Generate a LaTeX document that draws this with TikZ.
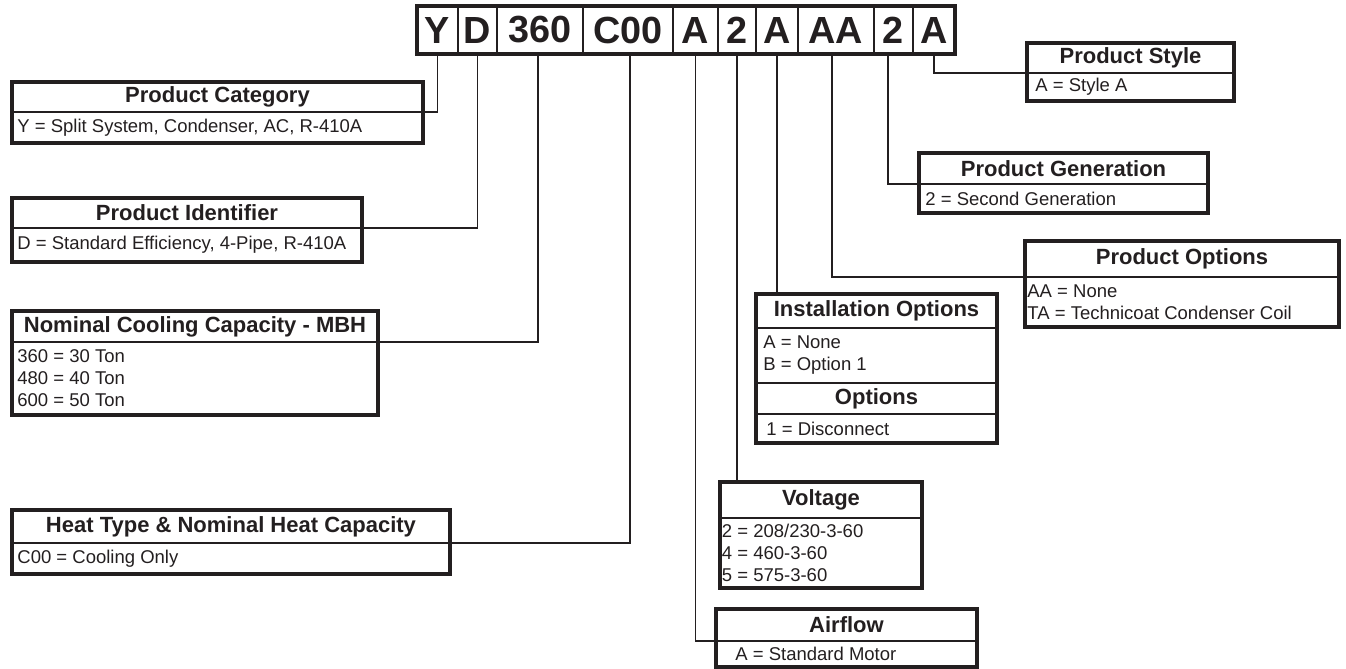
\documentclass[tikz,border=0pt]{standalone}
\usepackage{fontspec}
\setmainfont{Liberation Sans}
\usetikzlibrary{positioning}
\definecolor{SpecInk}{HTML}{231F20}
\tikzset{
  codecell/.style={draw=SpecInk,line width=0.75pt,minimum height=24pt,inner sep=0pt,outer sep=0pt,font=\fontsize{18.9}{20}\selectfont\bfseries},
  headcell/.style={draw=SpecInk,line width=0.75pt,anchor=north west,inner sep=0pt,outer sep=0pt,font=\fontsize{11}{13}\selectfont\bfseries},
  bodycell/.style={draw=SpecInk,line width=0.75pt,anchor=north west,inner sep=0pt,outer sep=0pt},
  bodytext/.style={anchor=west,align=left,inner sep=0pt,font=\fontsize{9.25}{11}\selectfont},
  boxframe/.style={draw=SpecInk,line width=1.6pt},
  leader/.style={draw=SpecInk,line width=0.75pt}
}
\begin{document}
\begin{tikzpicture}[x=0.5pt,y=-0.5pt,color=SpecInk]
\useasboundingbox (0,0) rectangle (1346,669);
% model number strip
\node[codecell,minimum width=20.5pt,anchor=north west] (cY) at (417,6) {Y};
\node[codecell,minimum width=19.5pt,right=0pt of cY] (cD) {D};
\node[codecell,minimum width=43pt,right=0pt of cD] (cCap) {360};
\node[codecell,minimum width=45pt,right=0pt of cCap] (cHeat) {C00};
\node[codecell,minimum width=22.5pt,right=0pt of cHeat] (cAir) {A};
\node[codecell,minimum width=19pt,right=0pt of cAir] (cVolt) {2};
\node[codecell,minimum width=21pt,right=0pt of cVolt] (cInst) {A};
\node[codecell,minimum width=38pt,right=0pt of cInst] (cOpt) {AA};
\node[codecell,minimum width=19.5pt,right=0pt of cOpt] (cGen) {2};
\node[codecell,minimum width=21pt,right=0pt of cGen] (cStyle) {A};
\draw[boxframe] (cY.north west) rectangle (cStyle.south east);

% product category
\node[headcell,minimum width=205.5pt,minimum height=15pt] (catHead) at (12,82) {Product Category};
\node[bodycell,minimum width=205.5pt,minimum height=15.5pt] (catBody) at (catHead.south west) {};
\node[bodytext] (catText) at ([xshift=2.5pt]catBody.west) {Y = Split System, Condenser, AC, R-410A};
\draw[boxframe] (catHead.north west) rectangle (catBody.south east);
\draw[leader] (cY.south) |- (catHead.south east);

% product identifier
\node[headcell,minimum width=175pt,minimum height=15pt] (idHead) at (12,198) {Product Identifier};
\node[bodycell,minimum width=175pt,minimum height=17pt] (idBody) at (idHead.south west) {};
\node[bodytext] (idText) at ([xshift=2.5pt]idBody.west) {D = Standard Efficiency, 4-Pipe, R-410A};
\draw[boxframe] (idHead.north west) rectangle (idBody.south east);
\draw[leader] (cD.south) |- (idHead.south east);

% cooling capacity
\node[headcell,minimum width=183pt,minimum height=15.5pt] (capHead) at (12,311) {Nominal Cooling Capacity - MBH};
\node[bodycell,minimum width=183pt,minimum height=36.5pt] (capBody) at (capHead.south west) {};
\node[bodytext] (capText) at ([xshift=2.5pt]capBody.west) {360 = 30 Ton\\480 = 40 Ton\\600 = 50 Ton};
\draw[boxframe] (capHead.north west) rectangle (capBody.south east);
\draw[leader] ([xshift=-1pt]cCap.south) |- (capHead.south east);

% heat type
\node[headcell,minimum width=219pt,minimum height=16.5pt] (heatHead) at (12,510) {Heat Type \& Nominal Heat Capacity};
\node[bodycell,minimum width=219pt,minimum height=15.5pt] (heatBody) at (heatHead.south west) {};
\node[bodytext] (heatText) at ([xshift=2.5pt]heatBody.west) {C00 = Cooling Only};
\draw[boxframe] (heatHead.north west) rectangle (heatBody.south east);
\draw[leader] ([xshift=1pt]cHeat.south) |- (heatHead.south east);

% installation options
\node[headcell,minimum width=120.5pt,minimum height=17pt] (instHead) at (756,294) {Installation Options};
\node[bodycell,minimum width=120.5pt,minimum height=27.5pt] (instBody) at (instHead.south west) {};
\node[bodytext] (instText) at ([xshift=3.5pt]instBody.west) {A = None\\B = Option 1};
\node[headcell,minimum width=120.5pt,minimum height=15.5pt] (optHead) at (instBody.south west) {Options};
\node[bodycell,minimum width=120.5pt,minimum height=14.5pt] (optBody) at (optHead.south west) {};
\node[bodytext] (optText) at ([xshift=5pt]optBody.west) {1 = Disconnect};
\draw[boxframe] (instHead.north west) rectangle (optBody.south east);
\draw[leader] (cInst.south) -- (cInst.south |- instHead.north);

% voltage
\node[headcell,minimum width=101pt,minimum height=18pt] (voltHead) at (720,482) {Voltage};
\node[bodycell,minimum width=101pt,minimum height=35pt] (voltBody) at (voltHead.south west) {};
\node[bodytext] (voltText) at ([xshift=0.75pt]voltBody.west) {2 = 208/230-3-60\\4 = 460-3-60\\5 = 575-3-60};
\draw[boxframe] (voltHead.north west) rectangle (voltBody.south east);
\draw[leader] (cVolt.south) -- (cVolt.south |- voltHead.north);

% airflow
\node[headcell,minimum width=130.5pt,minimum height=16pt] (airHead) at (716,609) {Airflow};
\node[bodycell,minimum width=130.5pt,minimum height=13pt] (airBody) at (airHead.south west) {};
\node[bodytext] (airText) at ([xshift=9.5pt]airBody.west) {A = Standard Motor};
\draw[boxframe] (airHead.north west) rectangle (airBody.south east);
\draw[leader] (cAir.south) |- (airHead.south west);

% product style
\node[headcell,minimum width=103.5pt,minimum height=15pt] (styleHead) at (1027,43) {Product Style};
\node[bodycell,minimum width=103.5pt,minimum height=14pt] (styleBody) at (styleHead.south west) {};
\node[bodytext] (styleText) at ([xshift=4pt]styleBody.west) {A = Style A};
\draw[boxframe] (styleHead.north west) rectangle (styleBody.south east);
\draw[leader] (cStyle.south) |- (styleHead.south west);

% product generation
\node[headcell,minimum width=144.5pt,minimum height=15.5pt] (genHead) at (919,153) {Product Generation};
\node[bodycell,minimum width=144.5pt,minimum height=14.5pt] (genBody) at (genHead.south west) {};
\node[bodytext] (genText) at ([xshift=3pt]genBody.west) {2 = Second Generation};
\draw[boxframe] (genHead.north west) rectangle (genBody.south east);
\draw[leader] ([xshift=-2.75pt]cGen.south) |- (genHead.south west);

% product options
\node[headcell,minimum width=157pt,minimum height=18pt] (poHead) at (1025,241) {Product Options};
\node[bodycell,minimum width=157pt,minimum height=25pt] (poBody) at (poHead.south west) {};
\node[bodytext] (poText) at ([xshift=1pt]poBody.west) {AA = None\\TA = Technicoat Condenser Coil};
\draw[boxframe] (poHead.north west) rectangle (poBody.south east);
\draw[leader] ([xshift=-2pt]cOpt.south) |- (poHead.south west);
\end{tikzpicture}
\end{document}
